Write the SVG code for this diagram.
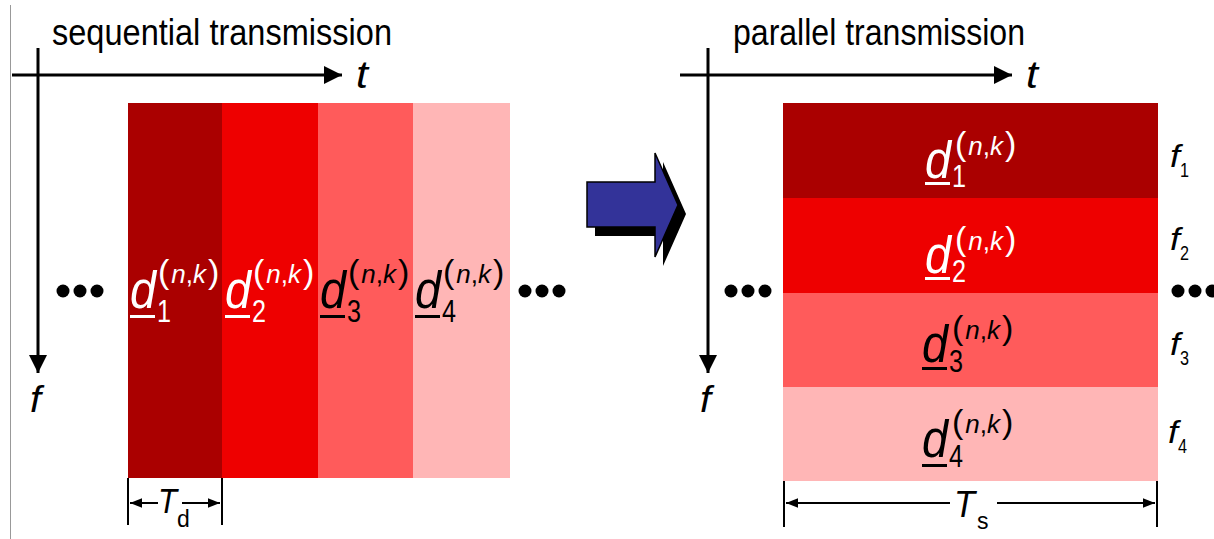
<svg xmlns="http://www.w3.org/2000/svg" width="1214" height="539" viewBox="0 0 1214 539">
<defs>
<style>
.t{font-family:"Liberation Sans",Arial,sans-serif;}
.it{font-family:"Liberation Sans",Arial,sans-serif;font-style:italic;}
.ax{stroke:#000;stroke-width:3;fill:none;}
.dim{stroke:#000;stroke-width:2;fill:none;}
.w{fill:#fff;}
.b{fill:#000;}
</style>
<marker id="ah" viewBox="0 0 10 10" refX="10" refY="5" markerWidth="6.5" markerHeight="6" orient="auto" markerUnits="strokeWidth"><path d="M0,0 L10,5 L0,10 z" fill="#000"/></marker>
<marker id="dh" viewBox="0 0 10 10" refX="10" refY="5" markerWidth="8" markerHeight="6" orient="auto-start-reverse" markerUnits="strokeWidth"><path d="M0,1 L10,5 L0,9 z" fill="#000"/></marker>
</defs>
<rect width="1214" height="539" fill="#fff"/>
<line x1="10.5" y1="5" x2="10.5" y2="539" stroke="#999" stroke-width="1"/>

<g id="left-panel">
<text class="t" x="52" y="45" font-size="37" textLength="340" lengthAdjust="spacingAndGlyphs">sequential transmission</text>
<g id="left-axes">
<line class="ax" x1="12" y1="75" x2="342" y2="75" marker-end="url(#ah)"/>
<line class="ax" x1="38" y1="48" x2="38" y2="373" marker-end="url(#ah)"/>
<text class="it" x="356" y="88" font-size="38" textLength="12" lengthAdjust="spacingAndGlyphs">t</text>
<text class="it" x="30" y="412" font-size="36" textLength="11" lengthAdjust="spacingAndGlyphs">f</text>
</g>
<g id="left-dots-a" class="b"><circle cx="63" cy="291" r="6.5"/><circle cx="80" cy="291" r="6.5"/><circle cx="97" cy="291" r="6.5"/></g>
<g id="left-dots-b" class="b"><circle cx="525" cy="291" r="6.5"/><circle cx="542" cy="291" r="6.5"/><circle cx="559" cy="291" r="6.5"/></g>

<g id="seq-d1">
<rect x="128" y="103" width="94" height="375" fill="#AA0000"/>
<text class="it w" x="130" y="308" font-size="51" textLength="26" lengthAdjust="spacingAndGlyphs">d</text>
<rect class="w" x="130" y="315" width="25" height="3"/>
<text class="t w" x="157" y="322" font-size="31" textLength="14" lengthAdjust="spacingAndGlyphs">1</text>
<text class="t w" x="158" y="283"><tspan font-size="34">(</tspan><tspan class="it" font-size="26" dx="2">n</tspan><tspan font-size="26">,</tspan><tspan class="it" font-size="26">k</tspan><tspan font-size="34" dx="2">)</tspan></text>
</g>
<g id="seq-d2">
<rect x="222" y="103" width="96" height="375" fill="#EE0000"/>
<text class="it w" x="225" y="308" font-size="51" textLength="26" lengthAdjust="spacingAndGlyphs">d</text>
<rect class="w" x="225" y="315" width="25" height="3"/>
<text class="t w" x="252" y="322" font-size="31" textLength="14" lengthAdjust="spacingAndGlyphs">2</text>
<text class="t w" x="253" y="283"><tspan font-size="34">(</tspan><tspan class="it" font-size="26" dx="2">n</tspan><tspan font-size="26">,</tspan><tspan class="it" font-size="26">k</tspan><tspan font-size="34" dx="2">)</tspan></text>
</g>
<g id="seq-d3">
<rect x="318" y="103" width="95" height="375" fill="#FF5B5B"/>
<text class="it b" x="320" y="308" font-size="51" textLength="26" lengthAdjust="spacingAndGlyphs">d</text>
<rect class="b" x="320" y="315" width="25" height="3"/>
<text class="t b" x="347" y="322" font-size="31" textLength="14" lengthAdjust="spacingAndGlyphs">3</text>
<text class="t b" x="348" y="283"><tspan font-size="34">(</tspan><tspan class="it" font-size="26" dx="2">n</tspan><tspan font-size="26">,</tspan><tspan class="it" font-size="26">k</tspan><tspan font-size="34" dx="2">)</tspan></text>
</g>
<g id="seq-d4">
<rect x="413" y="103" width="97" height="375" fill="#FFB6B6"/>
<text class="it b" x="415" y="308" font-size="51" textLength="26" lengthAdjust="spacingAndGlyphs">d</text>
<rect class="b" x="415" y="315" width="25" height="3"/>
<text class="t b" x="442" y="322" font-size="31" textLength="14" lengthAdjust="spacingAndGlyphs">4</text>
<text class="t b" x="443" y="283"><tspan font-size="34">(</tspan><tspan class="it" font-size="26" dx="2">n</tspan><tspan font-size="26">,</tspan><tspan class="it" font-size="26">k</tspan><tspan font-size="34" dx="2">)</tspan></text>
</g>
<g id="Td">
<line class="dim" x1="128" y1="478" x2="128" y2="525"/>
<line class="dim" x1="222" y1="478" x2="222" y2="525"/>
<line class="dim" x1="130" y1="503" x2="158" y2="503" marker-start="url(#dh)"/>
<line class="dim" x1="182" y1="503" x2="220" y2="503" marker-end="url(#dh)"/>
<text class="it" x="158" y="513" font-size="35" textLength="19" lengthAdjust="spacingAndGlyphs">T</text>
<text class="t" x="177" y="527" font-size="23">d</text>
</g>
</g>

<g id="big-arrow">
<path d="M595,191 L663,191 L663,162 L686,214 L663,266 L663,236 L595,236 z" fill="#000"/>
<path d="M587,182 L655,182 L655,153 L678,205 L655,257 L655,227 L587,227 z" fill="#333399" stroke="#000" stroke-width="1.5"/>
</g>

<g id="right-panel">
<text class="t" x="733" y="45" font-size="37" textLength="292" lengthAdjust="spacingAndGlyphs">parallel transmission</text>
<g id="right-axes">
<line class="ax" x1="680" y1="75" x2="1012" y2="75" marker-end="url(#ah)"/>
<line class="ax" x1="708" y1="48" x2="708" y2="373" marker-end="url(#ah)"/>
<text class="it" x="1026" y="88" font-size="38" textLength="12" lengthAdjust="spacingAndGlyphs">t</text>
<text class="it" x="700" y="412" font-size="36" textLength="11" lengthAdjust="spacingAndGlyphs">f</text>
</g>
<g id="right-dots-a" class="b"><circle cx="731" cy="291" r="6.5"/><circle cx="748" cy="291" r="6.5"/><circle cx="765" cy="291" r="6.5"/></g>
<g id="right-dots-b" class="b"><circle cx="1178" cy="291" r="6.5"/><circle cx="1195" cy="291" r="6.5"/><circle cx="1212" cy="291" r="6.5"/></g>

<g id="par-d1">
<rect x="783" y="103" width="375" height="95" fill="#AA0000"/>
<text class="it w" x="925" y="178" font-size="51" textLength="26" lengthAdjust="spacingAndGlyphs">d</text>
<rect class="w" x="925" y="182" width="25" height="3"/>
<text class="t w" x="952" y="187" font-size="31" textLength="14" lengthAdjust="spacingAndGlyphs">1</text>
<text class="t w" x="955" y="155"><tspan font-size="34">(</tspan><tspan class="it" font-size="26" dx="2">n</tspan><tspan font-size="26">,</tspan><tspan class="it" font-size="26">k</tspan><tspan font-size="34" dx="2">)</tspan></text>
<text class="it" x="1170" y="167" font-size="31" textLength="10" lengthAdjust="spacingAndGlyphs">f</text>
<text class="t" x="1180" y="177" font-size="21" textLength="9" lengthAdjust="spacingAndGlyphs">1</text>
</g>
<g id="par-d2">
<rect x="783" y="198" width="375" height="95" fill="#EE0000"/>
<text class="it w" x="925" y="273" font-size="51" textLength="26" lengthAdjust="spacingAndGlyphs">d</text>
<rect class="w" x="925" y="277" width="25" height="3"/>
<text class="t w" x="952" y="282" font-size="31" textLength="14" lengthAdjust="spacingAndGlyphs">2</text>
<text class="t w" x="955" y="250"><tspan font-size="34">(</tspan><tspan class="it" font-size="26" dx="2">n</tspan><tspan font-size="26">,</tspan><tspan class="it" font-size="26">k</tspan><tspan font-size="34" dx="2">)</tspan></text>
<text class="it" x="1170" y="250" font-size="31" textLength="10" lengthAdjust="spacingAndGlyphs">f</text>
<text class="t" x="1180" y="260" font-size="21" textLength="9" lengthAdjust="spacingAndGlyphs">2</text>
</g>
<g id="par-d3">
<rect x="783" y="293" width="375" height="94" fill="#FF5B5B"/>
<text class="it b" x="922" y="362" font-size="51" textLength="26" lengthAdjust="spacingAndGlyphs">d</text>
<rect class="b" x="922" y="367" width="25" height="3"/>
<text class="t b" x="949" y="372" font-size="31" textLength="14" lengthAdjust="spacingAndGlyphs">3</text>
<text class="t b" x="952" y="339"><tspan font-size="34">(</tspan><tspan class="it" font-size="26" dx="2">n</tspan><tspan font-size="26">,</tspan><tspan class="it" font-size="26">k</tspan><tspan font-size="34" dx="2">)</tspan></text>
<text class="it" x="1170" y="355" font-size="31" textLength="10" lengthAdjust="spacingAndGlyphs">f</text>
<text class="t" x="1180" y="365" font-size="21" textLength="9" lengthAdjust="spacingAndGlyphs">3</text>
</g>
<g id="par-d4">
<rect x="783" y="387" width="375" height="94" fill="#FFB6B6"/>
<text class="it b" x="922" y="457" font-size="51" textLength="26" lengthAdjust="spacingAndGlyphs">d</text>
<rect class="b" x="922" y="464" width="25" height="3"/>
<text class="t b" x="949" y="467" font-size="31" textLength="14" lengthAdjust="spacingAndGlyphs">4</text>
<text class="t b" x="952" y="433"><tspan font-size="34">(</tspan><tspan class="it" font-size="26" dx="2">n</tspan><tspan font-size="26">,</tspan><tspan class="it" font-size="26">k</tspan><tspan font-size="34" dx="2">)</tspan></text>
<text class="it" x="1168" y="443" font-size="31" textLength="10" lengthAdjust="spacingAndGlyphs">f</text>
<text class="t" x="1178" y="453" font-size="21" textLength="9" lengthAdjust="spacingAndGlyphs">4</text>
</g>
<g id="Ts">
<line class="dim" x1="784" y1="481" x2="784" y2="527"/>
<line class="dim" x1="1157" y1="481" x2="1157" y2="527"/>
<line class="dim" x1="786" y1="503" x2="950" y2="503" marker-start="url(#dh)"/>
<line class="dim" x1="997" y1="503" x2="1155" y2="503" marker-end="url(#dh)"/>
<text class="it" x="954" y="517" font-size="37" textLength="21" lengthAdjust="spacingAndGlyphs">T</text>
<text class="t" x="977" y="529" font-size="23">s</text>
</g>
</g>
</svg>
